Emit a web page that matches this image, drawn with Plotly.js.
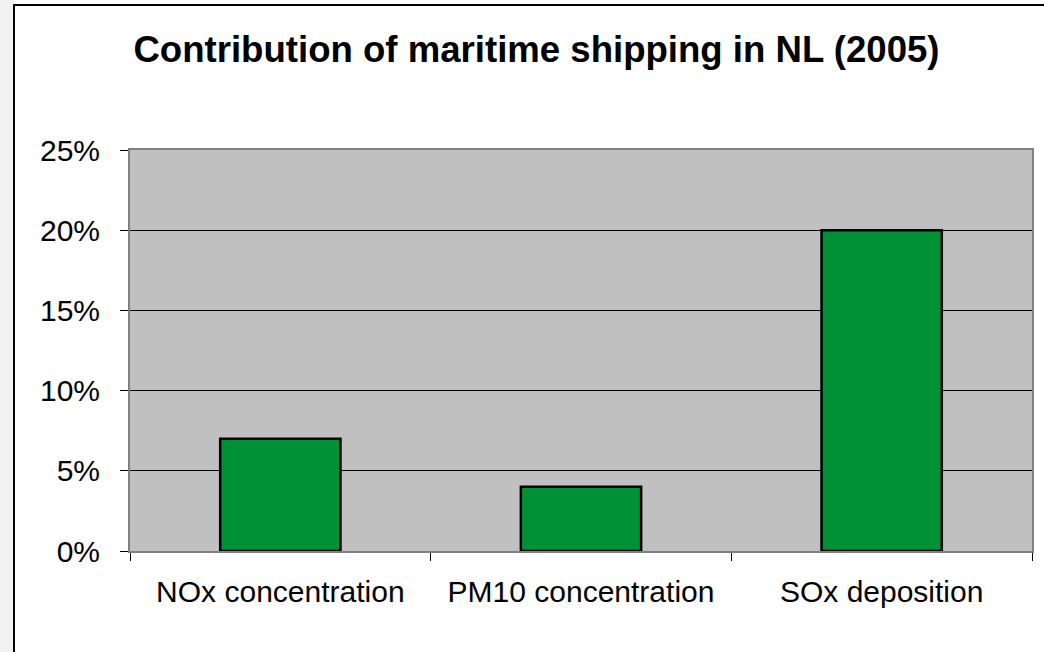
<!DOCTYPE html>
<html>
<head>
<meta charset="utf-8">
<script src="https://cdn.plot.ly/plotly-3.0.1.min.js"></script>
<style>html,body{margin:0;padding:0;background:#fff;}#chart{width:1044px;height:652px;}</style>
</head>
<body>
<div id="chart"></div>
<script>
const categories = ["NOx concentration", "PM10 concentration", "SOx deposition"];
const shares = [0.07, 0.04, 0.20];
const yTickVals = [0, 0.05, 0.10, 0.15, 0.20, 0.25];
const yTickText = ["0%", "5%", "10%", "15%", "20%", "25%"];

const W = 1044, H = 652;
const L = 130, R = 12, T = 150, B = 101;
const pw = W - L - R, ph = H - T - B;
const px = p => (p - L) / pw;
const py = p => (H - B - p) / ph;

const trace = {
  type: "bar",
  x: categories,
  y: shares,
  marker: { color: "#009035", line: { color: "#000000", width: 2.5 } },
  hoverinfo: "x+y"
};

const layout = {
  width: W, height: H,
  margin: { l: L, r: R, t: T, b: B, pad: 0 },
  paper_bgcolor: "#ffffff",
  plot_bgcolor: "#c0c0c0",
  showlegend: false,
  bargap: 0.6,
  font: { family: "Liberation Sans, Arial, sans-serif", color: "#000" },
  title: {
    text: "<b>Contribution of maritime shipping in NL (2005)</b>",
    font: { size: 36.6, family: "Liberation Sans, Arial, sans-serif", color: "#000" },
    x: 536.5 / W, xanchor: "center", xref: "container",
    y: 1 - 49 / H, yanchor: "middle", yref: "container"
  },
  xaxis: {
    type: "category",
    tickson: "boundaries",
    ticks: "outside", ticklen: 8, tickcolor: "#000", tickwidth: 1,
    showline: true, linecolor: "#808080", linewidth: 2, mirror: true,
    showgrid: false, zeroline: false,
    tickfont: { size: 30, color: "#000" },
    ticklabelstandoff: 13
  },
  yaxis: {
    range: [0, 0.25],
    tickvals: yTickVals, ticktext: yTickText,
    ticks: "outside", ticklen: 8, tickcolor: "#000", tickwidth: 1,
    showline: true, linecolor: "#808080", linewidth: 2, mirror: true,
    showgrid: true, gridcolor: "#000000", gridwidth: 1,
    zeroline: false,
    tickfont: { size: 30, color: "#000" },
    ticklabelstandoff: 14
  },
  shapes: [
    { type: "rect", xref: "paper", yref: "paper", layer: "below",
      x0: px(0), x1: px(13), y0: py(H + 5), y1: py(-5),
      fillcolor: "#f1f1f1", line: { width: 0 } },
    { type: "rect", xref: "paper", yref: "paper", layer: "below",
      x0: px(14), x1: px(W + 20), y0: py(H + 20), y1: py(5),
      fillcolor: "rgba(0,0,0,0)", line: { color: "#000", width: 2 } }
  ]
};

Plotly.newPlot("chart", [trace], layout, { displayModeBar: false, staticPlot: true });
</script>
</body>
</html>
